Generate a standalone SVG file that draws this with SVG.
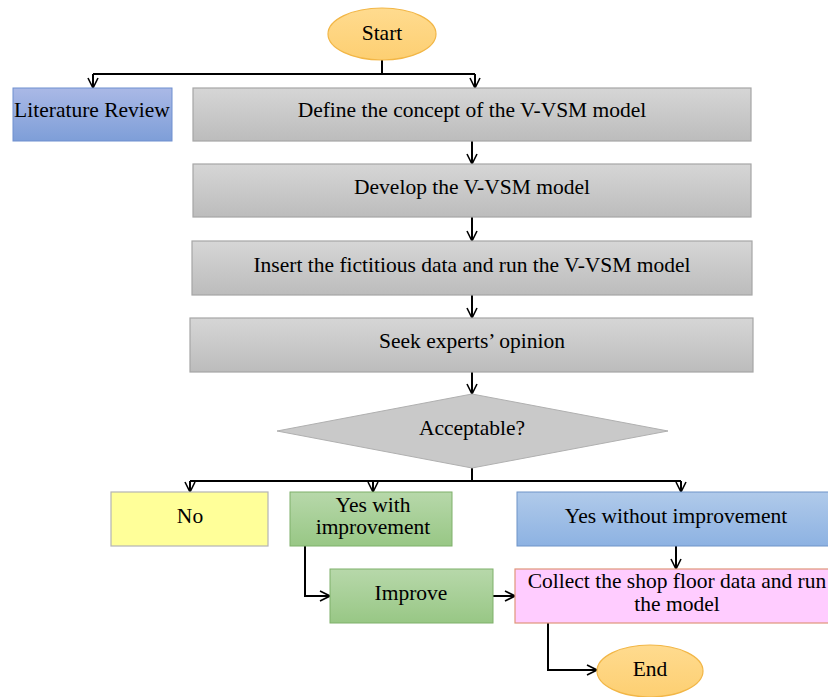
<svg xmlns="http://www.w3.org/2000/svg" width="828" height="697" viewBox="0 0 828 697">
<defs>
<linearGradient id="gGray" x1="0" y1="0" x2="0" y2="1"><stop offset="0" stop-color="#d6d6d6"/><stop offset="1" stop-color="#bcbcbc"/></linearGradient>
<linearGradient id="gBlue1" x1="0" y1="0" x2="0" y2="1"><stop offset="0" stop-color="#aab9e6"/><stop offset="1" stop-color="#7e9ed8"/></linearGradient>
<linearGradient id="gBlue2" x1="0" y1="0" x2="0" y2="1"><stop offset="0" stop-color="#b0caea"/><stop offset="1" stop-color="#8db2e2"/></linearGradient>
<linearGradient id="gGreen" x1="0" y1="0" x2="0" y2="1"><stop offset="0" stop-color="#b7d8aa"/><stop offset="1" stop-color="#98c785"/></linearGradient>
<linearGradient id="gOrange" x1="0" y1="0" x2="0" y2="1"><stop offset="0" stop-color="#ffdb8f"/><stop offset="1" stop-color="#fdcf72"/></linearGradient>
<marker id="arr" viewBox="0 0 12 12" refX="11" refY="6" markerWidth="12" markerHeight="12" markerUnits="userSpaceOnUse" orient="auto">
<path d="M1,1 L11,6 L1,11" fill="none" stroke="#000" stroke-width="1.6"/>
</marker>
</defs>
<style>
text{font-family:"Liberation Serif","Times New Roman",serif;font-size:21.5px;fill:#000;text-anchor:middle;dominant-baseline:central}
.gray{fill:url(#gGray);stroke:#a6a6a6;stroke-width:1.2}
.term{fill:url(#gOrange);stroke:#f2b646;stroke-width:1.2}
.con{fill:none;stroke:#000;stroke-width:2;marker-end:url(#arr)}
.ln{fill:none;stroke:#000;stroke-width:2}
</style>
<rect width="828" height="697" fill="#fff"/>
<g id="connectors">
<path class="ln" d="M382,60 V74"/>
<path class="ln" d="M93,74 H475"/>
<path class="con" d="M93,74 V88"/>
<path class="con" d="M475,74 V88"/>
<path class="con" d="M472,141 V164"/>
<path class="con" d="M472,217 V241"/>
<path class="con" d="M472,295 V318"/>
<path class="con" d="M472,372 V394"/>
<path class="ln" d="M472,468 V481"/>
<path class="ln" d="M190,481 H681"/>
<path class="con" d="M190,481 V492"/>
<path class="con" d="M373,481 V492"/>
<path class="con" d="M681,481 V492"/>
<path class="con" d="M676,546 V569"/>
<path class="con" d="M305,546 V596 H330"/>
<path class="con" d="M493,596 H515"/>
<path class="con" d="M548,623 V670 H597"/>
</g>
<g id="start"><ellipse class="term" cx="382" cy="34" rx="54" ry="26"/><text x="382" y="33">Start</text></g>
<g id="literature"><rect x="13" y="88" width="159" height="53" fill="url(#gBlue1)" stroke="#6f8fcf" stroke-width="1"/><text x="92" y="110">Literature Review</text></g>
<g id="define"><rect class="gray" x="193" y="88" width="558" height="53"/><text x="472" y="110">Define the concept of the V-VSM model</text></g>
<g id="develop"><rect class="gray" x="193" y="164" width="558" height="53"/><text x="472" y="187">Develop the V-VSM model</text></g>
<g id="insert"><rect class="gray" x="192" y="241" width="560" height="54"/><text x="472" y="265">Insert the fictitious data and run the V-VSM model</text></g>
<g id="seek"><rect class="gray" x="190" y="318" width="563" height="54"/><text x="472" y="341">Seek experts’ opinion</text></g>
<g id="acceptable"><polygon points="472,394 668,431 472,468 277,431" fill="#c9c9c9" stroke="#b0b0b0" stroke-width="1"/><text x="472" y="428">Acceptable?</text></g>
<g id="no"><rect x="111" y="492" width="157" height="54" fill="#ffff99" stroke="#b4b4b4" stroke-width="1.2"/><text x="190" y="516">No</text></g>
<g id="yeswith"><rect x="290" y="492" width="162" height="54" fill="url(#gGreen)" stroke="#7fb06a" stroke-width="1"/><text x="373" y="505">Yes with</text><text x="373" y="527">improvement</text></g>
<g id="yeswithout"><rect x="517" y="492" width="318" height="54" fill="url(#gBlue2)" stroke="#6f94c8" stroke-width="1"/><text x="676" y="516">Yes without improvement</text></g>
<g id="improve"><rect x="330" y="569" width="163" height="54" fill="url(#gGreen)" stroke="#7fb06a" stroke-width="1"/><text x="411" y="593">Improve</text></g>
<g id="collect"><rect x="515" y="569" width="320" height="54" fill="#ffccff" stroke="#e0957a" stroke-width="1.2"/><text x="677" y="581">Collect the shop floor data and run</text><text x="677" y="604">the model</text></g>
<g id="end"><ellipse class="term" cx="650" cy="671" rx="53" ry="26"/><text x="650" y="669">End</text></g>
</svg>
